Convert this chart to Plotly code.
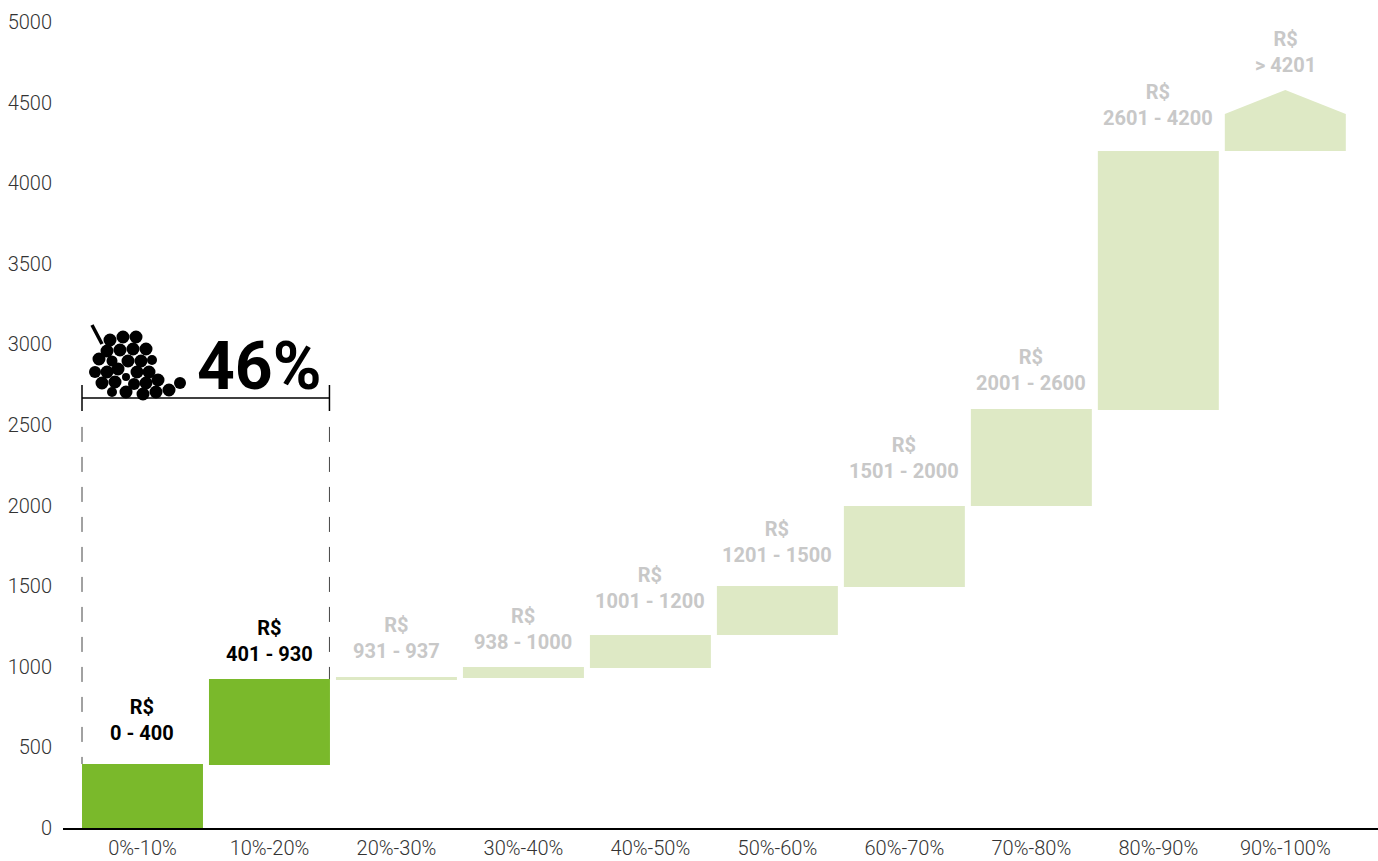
import plotly.graph_objects as go

W, H = 1378, 861
categories = ["0%-10%", "10%-20%", "20%-30%", "30%-40%", "40%-50%", "50%-60%", "60%-70%", "70%-80%", "80%-90%", "90%-100%"]
bar_base = [0, 391, 918, 930, 993, 1197, 1495, 1997, 2593]
bar_top = [397, 924, 937, 999, 1197, 1501, 1997, 2599, 4200]
top_base = 4200
top_shoulder = 4429
top_apex = 4578
range_labels = ["0 - 400", "401 - 930", "931 - 937", "938 - 1000", "1001 - 1200", "1201 - 1500", "1501 - 2000", "2001 - 2600", "2601 - 4200", "> 4201"]
label_y = [669, 1162, 1177, 1233, 1487, 1772, 2293, 2842, 4487, 4812]
y_ticks = [0, 500, 1000, 1500, 2000, 2500, 3000, 3500, 4000, 4500, 5000]
highlight_share = "46%"
GREEN, PALE, GREY, INK = "#7AB92B", "#DEE9C5", "#C8C8C8", "#000000"
FONT = "Roboto"
BAR_W = 121 / 127
n_bars = len(bar_top)

fig = go.Figure()
fig.add_bar(
    x=list(range(n_bars)),
    y=[t - b for t, b in zip(bar_top, bar_base)],
    base=bar_base,
    width=BAR_W,
    marker=dict(color=[GREEN, GREEN] + [PALE] * (n_bars - 2), line_width=0),
)
hw = BAR_W / 2
c = n_bars
fig.add_scatter(
    x=[c - hw, c - hw, c, c + hw, c + hw, c - hw],
    y=[top_base, top_shoulder, top_apex, top_shoulder, top_base, top_base],
    mode="lines", fill="toself", fillcolor=PALE, line=dict(width=0), hoverinfo="skip",
)

for i, (txt, ly) in enumerate(zip(range_labels, label_y)):
    fig.add_annotation(
        x=i, y=ly, text=f"R$<br>{txt}", showarrow=False, xanchor="center", yanchor="middle",
        align="center", font=dict(family=FONT, size=20, weight=700, color=INK if i < 2 else GREY),
    )

# bracket around the two highlighted bars
x_l, x_r = -hw, 1 + hw - 0.004
br_y = 2667
dash_c = "#444444"
shapes = [
    dict(type="line", xref="x", yref="y", x0=x_l, x1=x_r, y0=br_y, y1=br_y, line=dict(color=INK, width=1.5)),
    dict(type="line", xref="x", yref="y", x0=x_l, x1=x_l, y0=2587, y1=2748, line=dict(color=INK, width=1.5)),
    dict(type="line", xref="x", yref="y", x0=x_r, x1=x_r, y0=2587, y1=2748, line=dict(color=INK, width=1.5)),
    dict(type="line", xref="x", yref="y", x0=x_l, x1=x_l, y0=2488, y1=397, line=dict(color=dash_c, width=1, dash="15px,15px")),
    dict(type="line", xref="x", yref="y", x0=x_r, x1=x_r, y0=2488, y1=924, line=dict(color=dash_c, width=1, dash="15px,15px")),
]

# grape icon (page pixels converted to paper fractions)
def px(x): return x / W
def py(y): return 1 - y / H
grapes = [
    (110, 340, 6.5), (123, 337, 6.5), (136, 337, 6.5),
    (107, 351, 6.5), (120, 350, 6.5), (133, 349, 6.5), (146, 349, 6.5),
    (99, 359, 6.5), (112, 361, 5.5), (128, 361, 6.5), (141, 361, 6.5), (152, 360, 5),
    (95, 372, 6), (107, 372, 6.5), (118, 369, 6.5), (137, 372, 6.5), (149, 372, 6.5), (126, 377, 4),
    (102, 383, 6.5), (115, 382, 6.5), (134, 384, 6), (146, 383, 6.5), (158, 380, 6.5), (180, 383, 6),
    (112, 392, 5), (126, 392, 6.5), (143, 394, 6.5), (156, 392, 6.5), (169, 390, 6.5),
]
for gx, gy, r in grapes:
    shapes.append(dict(type="circle", xref="paper", yref="paper",
                       x0=px(gx - r), x1=px(gx + r), y0=py(gy - r), y1=py(gy + r),
                       fillcolor=INK, line_width=0))
shapes.append(dict(type="line", xref="paper", yref="paper", x0=px(92), y0=py(325), x1=px(102), y1=py(344),
                   line=dict(color=INK, width=3.5)))

fig.add_annotation(x=px(259), y=py(366), xref="paper", yref="paper", text=highlight_share, showarrow=False,
                   font=dict(family=FONT, size=66, weight=700, color=INK), xanchor="center", yanchor="middle")

fig.update_layout(
    width=W, height=H,
    margin=dict(l=0, r=0, t=0, b=0, autoexpand=False),
    paper_bgcolor="white", plot_bgcolor="white",
    showlegend=False, shapes=shapes,
    font=dict(family=FONT, size=20, color="#333333"),
    xaxis=dict(
        domain=[63 / W, 1], range=[-0.626, 9.73], automargin=False,
        tickmode="array", tickvals=list(range(len(categories))), ticktext=categories,
        showgrid=False, zeroline=False, showline=True, linecolor=INK, linewidth=2,
        ticks="", ticklabelstandoff=1,
        tickfont=dict(family=FONT, size=20, weight=300, color="#333333"),
    ),
    yaxis=dict(
        domain=[(H - 828) / H, (H - 22) / H], range=[0, 5000], automargin=False,
        tickmode="array", tickvals=y_ticks, ticklabelstandoff=10,
        showgrid=False, zeroline=False, showline=False, ticks="",
        tickfont=dict(family=FONT, size=20, weight=300, color="#333333"),
    ),
)
fig.write_html("out.html", config={"displayModeBar": False},
               post_script="document.body.style.margin='0';document.body.style.overflow='hidden';")
